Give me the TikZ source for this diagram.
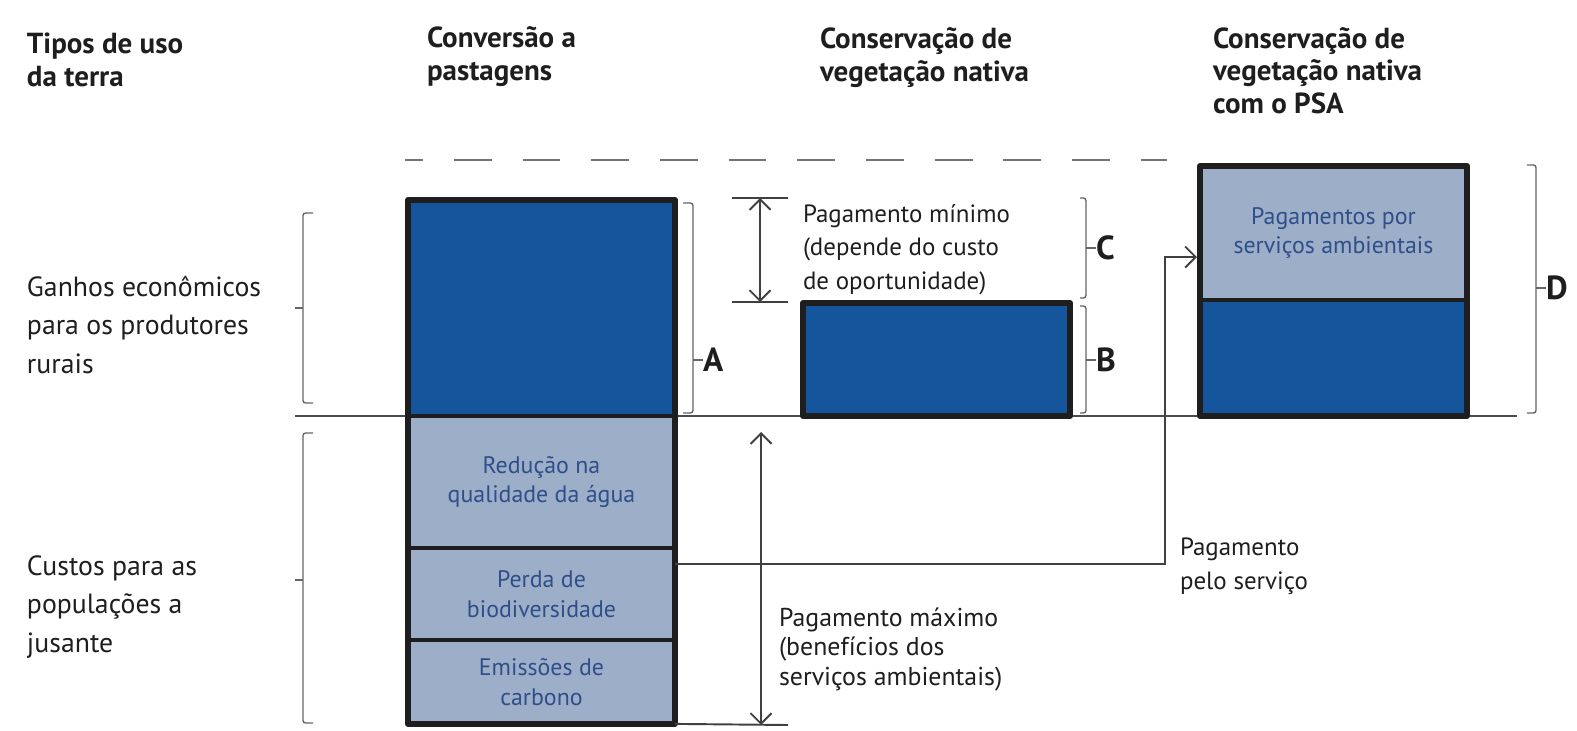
\documentclass[tikz,border=0pt]{standalone}
\usepackage{fontspec}
\setmainfont{PT Sans}
\usetikzlibrary{positioning,arrows.meta}
\definecolor{darkblue}{HTML}{14559B}
\definecolor{lightblue}{HTML}{9DAEC8}
\definecolor{boxtext}{HTML}{2F4F8A}
\definecolor{ink}{HTML}{1E1E1E}
\begin{document}
\begin{tikzpicture}[x=0.02cm,y=-0.02cm,
    every node/.style={inner sep=0pt,outer sep=0pt},
    head/.style={anchor=base west,align=left,text=ink,font=\fontsize{16.5}{18.3}\selectfont\bfseries},
    side/.style={anchor=base west,align=left,text=ink,font=\fontsize{15.8}{21.8}\selectfont},
    note/.style={anchor=base west,align=left,text=ink,font=\fontsize{14.2}{18.8}\selectfont},
    gain/.style={draw=ink,line width=2.4pt,fill=darkblue,minimum width=5.34cm},
    cost/.style={draw=ink,line width=2.4pt,fill=lightblue,minimum width=5.34cm,align=center,text=boxtext,font=\fontsize{13.6}{17}\selectfont},
    frame/.style={draw=ink,line width=3.4pt,line join=round},
    brk/.style={draw=black!60,line width=0.8pt,rounded corners=1.5pt},
    thinline/.style={draw=black!75,line width=1.1pt},
    dim/.style={thinline,{Straight Barb[length=6pt,width=12pt]}-{Straight Barb[length=6pt,width=12pt]}},
    flow/.style={thinline,-{Straight Barb[length=6pt,width=12pt]}},
    lab/.style={anchor=west,text=ink,font=\fontsize{19}{20}\selectfont\bfseries}]
  \useasboundingbox (0,0) rectangle (1577,730);
  % headers (base = last line)
  \node[head] (htipos) at (27,86) {Tipos de uso\\da terra};
  \node[head] (hconv) at (427,80) {Conversão a\\pastagens};
  \node[head] (hcons) at (820,81) {Conservação de\\vegetação nativa};
  \node[head] (hpsa) at (1213,113) {Conservação de\\vegetação nativa\\com o PSA};
  \node[side] (ganhos) at (27,373) {Ganhos econômicos\\para os produtores\\rurais};
  \node[side] (custos) at (27,652) {Custos para as\\populações a\\jusante};
  % baseline and top level
  \draw[draw=black!70,line width=0.8pt] (295,416) -- (1517,416);
  \draw[draw=black!55,line width=0.9pt,dash pattern=on 21.5pt off 17.6pt,dash phase=11.3pt] (405,160) -- (1167,160);
  % bars
  \node[gain,minimum height=4.32cm,anchor=north west] (g1) at (408,200) {};
  \node[cost,minimum height=2.64cm,below=0pt of g1] (agua) {Redução na\\qualidade da água};
  \node[cost,minimum height=1.84cm,below=0pt of agua] (bio) {Perda de\\biodiversidade};
  \node[cost,minimum height=1.68cm,below=0pt of bio] (carb) {Emissões de\\carbono};
  \node[gain,minimum height=2.26cm,anchor=south west] (g2) at (803,416) {};
  \node[gain,minimum height=2.32cm,anchor=south west] (g3) at (1200,416) {};
  \node[cost,minimum height=2.68cm,above=0pt of g3] (psa) {Pagamentos por\\serviços ambientais};
  \draw[frame] (g1.north west) rectangle (carb.south east);
  \draw[frame] (g2.north west) rectangle (g2.south east);
  \draw[frame] (psa.north west) rectangle (g3.south east);
  % brackets
  \draw[brk] (313,213) -- (303,213) -- (303,403) -- (313,403);
  \draw[brk] (303,308) -- (295,308);
  \draw[brk] (313,433) -- (303,433) -- (303,723) -- (313,723);
  \draw[brk] (303,580) -- (295,580);
  \node[lab] (laba) at (703,360) {A};
  \draw[brk] (683,203) -- (693,203) -- (693,413) -- (683,413);
  \draw[brk] (693,360) -- (laba.west);
  \node[lab] (labb) at (1096,360) {B};
  \draw[brk] (1080,306) -- (1086,306) -- (1086,413) -- (1080,413);
  \draw[brk] (1086,360) -- (labb.west);
  \node[lab] (labc) at (1096,248) {C};
  \draw[brk] (1080,198) -- (1086,198) -- (1086,298) -- (1080,298);
  \draw[brk] (1086,248) -- (labc.west);
  \node[lab] (labd) at (1546,288) {D};
  \draw[brk] (1527,165) -- (1536,165) -- (1536,413) -- (1527,413);
  \draw[brk] (1536,288) -- (labd.west);
  % payments
  \coordinate (mintop) at (760,198);
  \coordinate (minbot) at (760,302);
  \draw[thinline] (732,198) -- (788,198);
  \draw[thinline] (732,302) -- (788,302);
  \draw[dim] (mintop) -- (minbot);
  \node[note] (pmin) at (803,289) {Pagamento mínimo\\(depende do custo\\de oportunidade)};
  \coordinate (maxtop) at (761,432);
  \coordinate (maxbot) at (761,725);
  \draw[thinline] (carb.south east) -- (788,725);
  \draw[dim] (maxtop) -- (maxbot);
  \node[note,font=\fontsize{14.7}{16.7}\selectfont] (pmax) at (779,685) {Pagamento máximo\\(benefícios dos\\serviços ambientais)};
  \coordinate (bend) at (1165,400);
  \draw[flow,shorten >=1.7pt] ([yshift=-0.32cm]bio.north east) -| (bend) |- ([yshift=0.86cm]psa.south west);
  \node[note] (pserv) at (1180,589) {Pagamento\\pelo serviço};
\end{tikzpicture}
\end{document}
